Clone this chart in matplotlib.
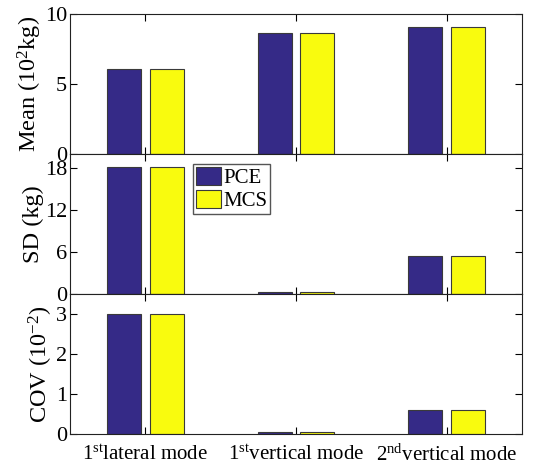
import matplotlib
matplotlib.use("Agg")
import matplotlib.pyplot as plt
import numpy as np

plt.rcParams["font.family"] = "Liberation Serif"
plt.rcParams["mathtext.fontset"] = "custom"
plt.rcParams["mathtext.rm"] = "Liberation Serif"
plt.rcParams["mathtext.it"] = "Liberation Serif:italic"
plt.rcParams["font.size"] = 14

modes = ["1$^{\\rm st}$lateral mode", "1$^{\\rm st}$vertical mode", "2$^{\\rm nd}$vertical mode"]
mean_pce = [6.05, 8.62, 9.05]
mean_mcs = [6.05, 8.62, 9.05]
sd_pce = [18.1, 0.33, 5.47]
sd_mcs = [18.1, 0.33, 5.43]
cov_pce = [2.99, 0.05, 0.61]
cov_mcs = [2.99, 0.05, 0.61]

c_pce = "#352a87"
c_mcs = "#f9fb0e"

fig = plt.figure(figsize=(5.41, 4.71), dpi=100)
left, width, h = 0.1294, 0.8355, 0.2972
ax1 = fig.add_axes([left, 0.673, width, h])
ax2 = fig.add_axes([left, 0.3758, width, h])
ax3 = fig.add_axes([left, 0.0786, width, h])

x = np.arange(1, 4)
w = 0.225
off = 0.142

panels = [
    (ax1, mean_pce, mean_mcs, (0, 10), [0, 5, 10], "Mean (10$^2$kg)"),
    (ax2, sd_pce, sd_mcs, (0, 20), [0, 6, 12, 18], "SD (kg)"),
    (ax3, cov_pce, cov_mcs, (0, 3.5), [0, 1, 2, 3], "COV (10$^{-2}$)"),
]

for ax, p, m, lim, ticks, lab in panels:
    ax.bar(x - off, p, w, color=c_pce, edgecolor="#3a3a3a", linewidth=0.8, label="PCE")
    ax.bar(x + off, m, w, color=c_mcs, edgecolor="#3a3a3a", linewidth=0.8, label="MCS")
    ax.set_xlim(0.5, 3.5)
    ax.set_ylim(*lim)
    ax.set_yticks(ticks)
    ax.set_xticks(x)
    ax.set_ylabel(lab, fontsize=17.5, labelpad=1)
    ax.tick_params(direction="in", top=True, right=True, length=5, width=0.8,
                   labelsize=16, pad=2)
    for s in ax.spines.values():
        s.set_linewidth(0.8)
        s.set_color("#222222")

ax1.set_xticklabels([])
ax2.set_xticklabels([])
ax3.set_xticklabels(modes, fontsize=15)
ax3.tick_params(axis="x", pad=8)

ax2.legend(loc="upper left", bbox_to_anchor=(0.272, 0.93), fancybox=False,
           edgecolor="#555555", framealpha=1, fontsize=15, handlelength=1.2,
           handleheight=0.95, handletextpad=0.1, borderpad=0.15, labelspacing=0.1,
           borderaxespad=0)

fig.savefig("out.png", dpi=100)
